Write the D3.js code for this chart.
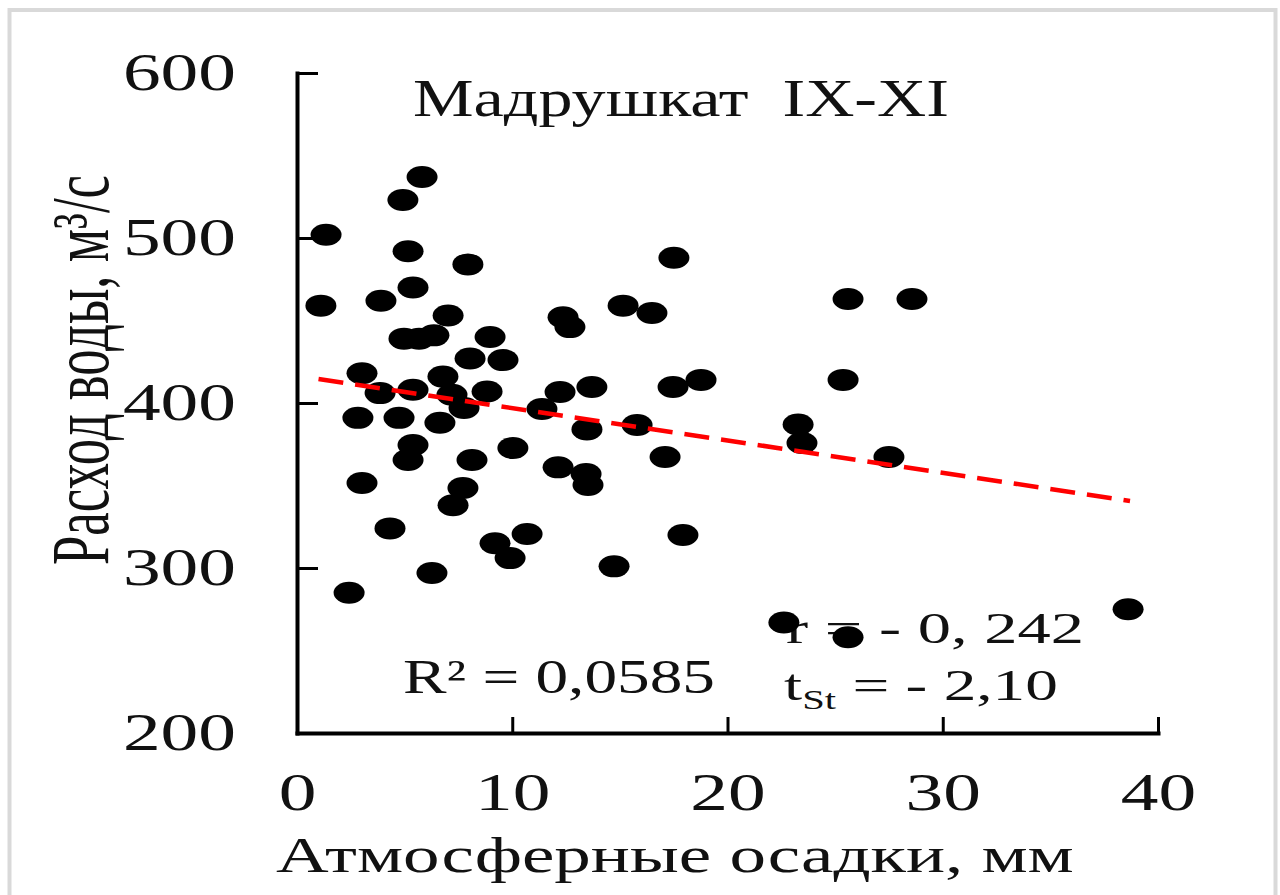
<!DOCTYPE html>
<html>
<head>
<meta charset="utf-8">
<script src="https://cdn.jsdelivr.net/npm/d3@7"></script>
<style>
  body { margin: 0; background: #fff; }
  svg { display: block; }
  text { font-family: "Liberation Serif", "Times New Roman", serif; fill: #111; }
</style>
</head>
<body>
<svg id="chart" width="1280" height="895"></svg>
<script>
// Atmospheric precipitation (mm) and water discharge (m3/s), Madrushkat, September–November
const precipitation = [
  5.81, 4.92, 1.35, 5.16, 7.94, 5.39, 1.11, 3.90, 7.02, 4.97,
  5.67, 6.36, 8.97, 8.04, 9.57, 3.02, 3.86, 5.39, 6.78, 7.20,
  7.76, 6.64, 8.83, 2.83, 4.74, 5.39, 5.16, 8.13, 3.02, 7.71,
  7.25, 4.32, 6.27, 2.42, 9.20, 10.69, 9.90, 12.36, 12.68, 15.15,
  16.49, 17.51, 25.60, 28.57, 12.22, 13.70, 17.47, 18.77, 25.37, 11.38,
  13.47, 15.80, 23.28, 23.46, 27.50, 10.03, 12.13, 13.43, 13.52, 17.10,
  17.93, 14.73, 38.61, 22.62, 25.60
];
const discharge = [
  537, 523, 502, 492, 484, 470, 459, 462, 453, 439,
  439, 441, 440, 427, 426, 418, 406, 408, 416, 405,
  397, 388, 407, 391, 391, 374.5, 365.5, 365.5, 351.5, 348.5,
  338, 324, 297, 285, 315, 320.6, 306, 452, 446, 459,
  454.5, 488, 463, 463, 406.7, 409.7, 409.7, 414, 414, 396.4,
  384, 386.7, 387, 375.8, 367.3, 372.7, 361, 357, 350.3, 367.3,
  320, 301, 275, 267, 258
];

// Linear trend: discharge = intercept + slope * precipitation
const trendIntercept = 416.5;
const trendSlope = -1.96;
const trendExtent = [1.0, 38.7];

const xTickValues = [0, 10, 20, 30, 40];
const yTickValues = [200, 300, 400, 500, 600];

const chartTitle = "Мадрушкат  IX-XI";
const xAxisTitle = "Атмосферные осадки, мм";
const yAxisTitle = "Расход воды, м³/с";
const statR2 = "R² = 0,0585";
const statR = "r = - 0, 242";
const statT = { base: "t", sub: "St", rest: " = - 2,10" };

const svg = d3.select("#chart");

// light frame around the figure
svg.append("rect")
  .attr("x", 9.5).attr("y", 10)
  .attr("width", 1266).attr("height", 1000)
  .attr("fill", "none").attr("stroke", "#d9d9d9").attr("stroke-width", 4);

const x = d3.scaleLinear().domain([0, 40]).range([297, 1158]);
const y = d3.scaleLinear().domain([200, 600]).range([733, 73]);

const hStretch = 1.45;

// stretch a text horizontally (in its own frame) to a given width
function fitWidth(sel, width, cross = 1) {
  const w = sel.node().getBBox().width;
  sel.attr("transform", `scale(${width / w},${cross})`);
}

// --- axes ---
const xAxis = d3.axisBottom(x).tickValues(xTickValues).tickSizeInner(-16).tickSizeOuter(0).tickPadding(0);
const yAxis = d3.axisLeft(y).tickValues(yTickValues).tickSizeInner(-21).tickSizeOuter(0).tickPadding(0);

const gx = svg.append("g").attr("transform", `translate(0,${y(200)})`).call(xAxis);
const gy = svg.append("g").attr("transform", `translate(${x(0)},0)`).call(yAxis);

[gx, gy].forEach(g => {
  g.select(".domain").attr("stroke", "#000").attr("stroke-width", 4).attr("stroke-linecap", "square");
  g.selectAll(".tick line").attr("stroke", "#000").attr("stroke-width", 3);
  g.selectAll(".tick text")
    .attr("fill", "#111")
    .attr("font-family", "'Liberation Serif', 'Times New Roman', serif")
    .attr("font-size", 52);
});

gx.selectAll(".tick text")
  .attr("x", 0).attr("y", 0).attr("dy", null)
  .attr("dominant-baseline", null)
  .attr("transform", `translate(0,77) scale(${hStretch},1)`);

gy.selectAll(".tick text")
  .attr("x", 0).attr("dy", "0.33em")
  .attr("text-anchor", "end")
  .attr("transform", `translate(-61,-1) scale(${hStretch},1)`);

// --- statistics text (under the markers) ---
const r2g = svg.append("g").attr("transform", "translate(403,693)");
const r2t = r2g.append("text").attr("font-size", 48).text(statR2);
fitWidth(r2t, 312);

const rg = svg.append("g").attr("transform", "translate(786,643)");
const rt = rg.append("text").attr("font-size", 45).style("white-space", "pre").text(statR);
fitWidth(rt, 298);

const tg = svg.append("g").attr("transform", "translate(784,700)");
const tt = tg.append("text").attr("font-size", 45).style("white-space", "pre");
tt.append("tspan").text(statT.base);
tt.append("tspan").attr("font-size", 28).attr("dy", 9).text(statT.sub);
tt.append("tspan").attr("dy", -9).text(statT.rest);
fitWidth(tt, 274);

// --- data points ---
const points = precipitation.map((p, i) => ({ p, q: discharge[i] }));
svg.append("g")
  .selectAll("ellipse")
  .data(points)
  .join("ellipse")
  .attr("cx", d => x(d.p))
  .attr("cy", d => y(d.q))
  .attr("rx", 15.5)
  .attr("ry", 11)
  .attr("fill", "#000");

// --- trend line ---
const trendPts = trendExtent.map(p => [p, trendIntercept + trendSlope * p]);
svg.append("path")
  .datum(trendPts)
  .attr("d", d3.line().x(d => x(d[0])).y(d => y(d[1])))
  .attr("fill", "none")
  .attr("stroke", "#ff0000")
  .attr("stroke-width", 4.5)
  .attr("stroke-dasharray", "25,12");

// --- titles ---
const tg0 = svg.append("g").attr("transform", "translate(413,116)");
const titleText = tg0.append("text").attr("font-size", 52).style("white-space", "pre").text(chartTitle);
fitWidth(titleText, 536);

const xg = svg.append("g").attr("transform", "translate(276,872)");
const xTitleText = xg.append("text").attr("font-size", 50).text(xAxisTitle);
fitWidth(xTitleText, 798);

const yg = svg.append("g").attr("transform", "translate(108,370) rotate(-90)");
const yTitleText = yg.append("text").attr("font-size", 52).attr("text-anchor", "middle").text(yAxisTitle);
fitWidth(yTitleText, 390, 1.6);
</script>
</body>
</html>
